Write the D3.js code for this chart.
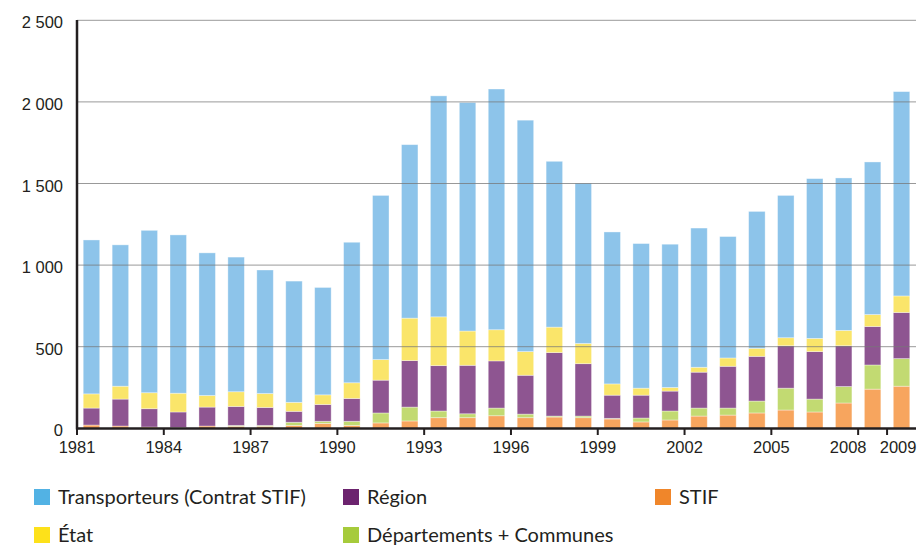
<!DOCTYPE html>
<html>
<head>
<meta charset="utf-8">
<script src="https://cdn.jsdelivr.net/npm/d3@7"></script>
<style>
  body { margin: 0; background: #fff; }
</style>
</head>
<body>
<script>
var width = 920;
var height = 547;

// Data (millions d'euros).
var years = [1981, 1982, 1983, 1984, 1985, 1986, 1987, 1988, 1989, 1990,
  1991, 1992, 1993, 1994, 1995, 1996, 1997, 1998, 1999, 2000,
  2001, 2002, 2003, 2004, 2005, 2006, 2007, 2008, 2009];
var tickYears = [1981, 1984, 1987, 1990, 1993, 1996, 1999, 2002, 2005, 2008, 2009];
var yTicks = [0, 500, 1000, 1500, 2000, 2500];

var stif = [20, 14, 8, 5, 14, 12, 12, 18, 30, 18,
  33, 45, 65, 65, 77, 65, 69, 65, 57, 39,
  51, 75, 81, 94, 112, 100, 155, 240, 258];
var departements = [0, 0, 0, 0, 0, 6, 6, 19, 13, 25,
  61, 85, 41, 24, 47, 22, 6, 10, 4, 24,
  55, 49, 43, 73, 134, 79, 101, 148, 169];
var region = [104, 165, 112, 95, 116, 116, 110, 67, 103, 140,
  201, 285, 278, 297, 289, 238, 389, 321, 142, 140,
  122, 220, 256, 274, 260, 291, 250, 236, 283];
var etat = [87, 79, 98, 115, 71, 90, 85, 55, 59, 96,
  126, 260, 299, 210, 191, 145, 156, 124, 69, 43,
  22, 30, 51, 49, 49, 81, 94, 73, 101];
var transporteurs = [943, 866, 995, 970, 874, 825, 757, 743, 658, 861,
  1006, 1063, 1354, 1400, 1475, 1418, 1016, 982, 931, 886,
  878, 853, 744, 839, 872, 979, 934, 935, 1252];

// Series, bottom to top.
var series = [
  {key: 'stif', label: 'STIF', values: stif, bar: '#f7a55e', swatch: '#f0862a'},
  {key: 'dep', label: 'Départements + Communes', values: departements, bar: '#c2da72', swatch: '#a6cb3b'},
  {key: 'region', label: 'Région', values: region, bar: '#8e5591', swatch: '#6c236e'},
  {key: 'etat', label: 'État', values: etat, bar: '#fae56a', swatch: '#fde11a'},
  {key: 'transp', label: 'Transporteurs (Contrat STIF)', values: transporteurs, bar: '#8dc4ea', swatch: '#52b2e4'}
];

var rows = years.map(function(y, i) {
  var r = {year: y};
  series.forEach(function(s) { r[s.key] = s.values[i]; });
  return r;
});

var svg = d3.select('body')
  .append('svg')
  .attr('width', width)
  .attr('height', height);

// Scales.
var x = d3.scaleBand()
  .domain(years)
  .range([77, 916])
  .paddingInner(0.43)
  .paddingOuter(0.215);

var y = d3.scaleLinear()
  .domain([0, 2500])
  .range([428.3, 20.3]);

var stack = d3.stack().keys(series.map(function(s) { return s.key; }));
var stacked = stack(rows);

// Bars.
svg.append('g')
  .selectAll('g')
  .data(stacked)
  .enter().append('g')
  .attr('fill', function(d, i) { return series[i].bar; })
  .selectAll('rect')
  .data(function(d) { return d; })
  .enter().append('rect')
  .attr('x', function(d) { return x(d.data.year); })
  .attr('width', x.bandwidth())
  .attr('y', function(d) { return y(d[1]); })
  .attr('height', function(d) { return Math.max(0, y(d[0]) - y(d[1])); })
  .attr('stroke', 'rgba(255,255,255,0.45)')
  .attr('stroke-width', 0.8);

// Gridlines drawn over bars.
svg.append('g')
  .selectAll('line')
  .data(yTicks.filter(function(t) { return t > 0; }))
  .enter().append('line')
  .attr('x1', 77)
  .attr('x2', 916)
  .attr('y1', function(d) { return y(d); })
  .attr('y2', function(d) { return y(d); })
  .attr('stroke', '#777')
  .attr('stroke-opacity', 0.75)
  .attr('stroke-width', 1);

// Y labels.
var fmt = function(v) { return d3.format(',')(v).replace(/,/g, ' '); };
svg.append('g')
  .selectAll('text')
  .data(yTicks)
  .enter().append('text')
  .attr('x', 63)
  .attr('y', function(d) { return y(d) + 8; })
  .attr('text-anchor', 'end')
  .attr('font-family', 'Liberation Sans, Arial, sans-serif')
  .attr('font-size', 16.5)
  .attr('fill', '#231f20')
  .text(fmt);

// Axes lines.
svg.append('line')
  .attr('x1', 77).attr('x2', 77)
  .attr('y1', 20).attr('y2', 429.5)
  .attr('stroke', '#231f20')
  .attr('stroke-width', 2.5);
svg.append('line')
  .attr('x1', 76).attr('x2', 916)
  .attr('y1', 428.5).attr('y2', 428.5)
  .attr('stroke', '#231f20')
  .attr('stroke-width', 2.5);

// X ticks at the left edge of each year's slot.
var half = x.step() * x.paddingInner() / 2;
var labelShift = {2008: -10, 2009: 11};
var xt = svg.append('g')
  .selectAll('g')
  .data(tickYears)
  .enter().append('g')
  .attr('transform', function(d) { return 'translate(' + (x(d) - half) + ',0)'; });
xt.append('line')
  .attr('y1', 428).attr('y2', 435)
  .attr('stroke', '#231f20')
  .attr('stroke-width', 2);
xt.append('text')
  .attr('x', function(d) { return labelShift[d] || 0; })
  .attr('y', 453)
  .attr('text-anchor', 'middle')
  .attr('font-family', 'Liberation Sans, Arial, sans-serif')
  .attr('font-size', 16.5)
  .attr('fill', '#231f20')
  .text(function(d) { return d; });

// Legend.
var legendOrder = ['transp', 'region', 'stif', 'etat', 'dep'];
var legendX = [34, 343, 655, 34, 343];
var legendY = [489, 489, 489, 527, 527];
var leg = svg.append('g')
  .selectAll('g')
  .data(legendOrder)
  .enter().append('g')
  .attr('transform', function(d, i) { return 'translate(' + legendX[i] + ',' + legendY[i] + ')'; });
leg.append('rect')
  .attr('width', 16)
  .attr('height', 16)
  .attr('fill', function(k) { return series.find(function(s) { return s.key === k; }).swatch; });
leg.append('text')
  .attr('x', 24)
  .attr('y', 15)
  .attr('font-family', 'Lato, sans-serif')
  .attr('font-size', 20)
  .attr('fill', '#231f20')
  .text(function(k) { return series.find(function(s) { return s.key === k; }).label; });
</script>
</body>
</html>
